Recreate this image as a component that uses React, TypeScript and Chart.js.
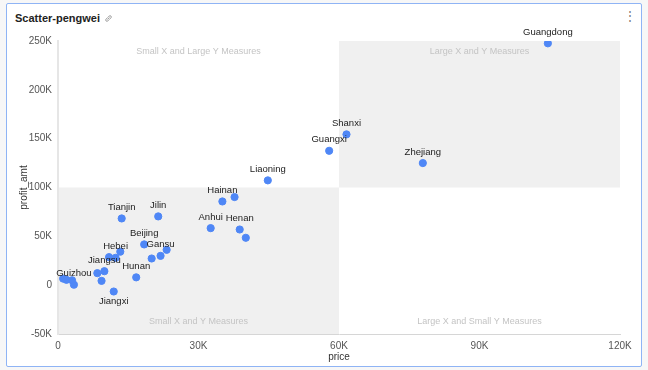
import React, { useEffect, useRef } from "react";
import { Chart, registerables } from "chart.js";

Chart.register(...registerables);

const provinces: string[] = [
  "Guangdong", "Shanxi", "Guangxi", "Zhejiang", "Liaoning",
  "Hainan", "", "Tianjin", "Jilin", "Anhui", "Henan", "",
  "Beijing", "Gansu", "", "", "Hebei", "", "",
  "Jiangsu", "", "", "Hunan", "Guizhou", "", "", "", "Jiangxi",
];
const priceValues: number[] = [
  104600, 61600, 57900, 77900, 44800,
  35100, 37700, 13600, 21400, 32600, 38800, 40100,
  18400, 21900, 23200, 20000, 12300, 10900, 13300,
  9900, 8400, 9300, 16700, 3400, 1100, 1800, 3000, 11900,
];
const profitValues: number[] = [
  247600, 154400, 137600, 125000, 107300,
  85700, 90200, 68300, 70400, 58400, 57000, 48500,
  41700, 30000, 36200, 27300, 28000, 28700, 34300,
  14300, 12300, 4400, 8000, 500, 6700, 5500, 5000, -6500,
];
const labelBelow: string[] = ["Jiangxi"];

const xTicks: number[] = [0, 30000, 60000, 90000, 120000];
const yTicks: number[] = [-50000, 0, 50000, 100000, 150000, 200000, 250000];
const xSplit = 60000;
const ySplit = 100000;
const quadrantTexts: string[] = [
  "Small X and Large Y Measures",
  "Large X and Y Measures",
  "Small X and Y Measures",
  "Large X and Small Y Measures",
];

const FONT = "'Liberation Sans', Arial, Helvetica, sans-serif";

const fmt = (v: number) => (v === 0 ? "0" : `${v / 1000}K`);

const quadrantPlugin = {
  id: "quadrants",
  beforeDraw(chart: any) {
    const { ctx, chartArea, scales } = chart;
    const x = scales.x;
    const y = scales.y;
    const xs = x.getPixelForValue(xSplit);
    const ys = y.getPixelForValue(ySplit);
    const { left, right, top, bottom } = chartArea;
    ctx.save();
    ctx.fillStyle = "#f0f0f0";
    ctx.fillRect(left, ys, xs - left, bottom - ys);
    ctx.fillRect(xs, top, right - xs, ys - top);
    ctx.fillStyle = "#c4c4c4";
    ctx.font = `9px ${FONT}`;
    ctx.textAlign = "center";
    ctx.textBaseline = "middle";
    const lc = (left + xs) / 2;
    const rc = (xs + right) / 2;
    ctx.fillText(quadrantTexts[0], lc, top + 11);
    ctx.fillText(quadrantTexts[1], rc, top + 11);
    ctx.fillText(quadrantTexts[2], lc, bottom - 12);
    ctx.fillText(quadrantTexts[3], rc, bottom - 12);
    ctx.restore();
  },
};

const labelPlugin = {
  id: "pointLabels",
  afterDatasetsDraw(chart: any) {
    const { ctx } = chart;
    const meta = chart.getDatasetMeta(0);
    ctx.save();
    ctx.fillStyle = "#222222";
    ctx.font = `9.5px ${FONT}`;
    ctx.textAlign = "center";
    ctx.textBaseline = "middle";
    meta.data.forEach((pt: any, i: number) => {
      const name = provinces[i];
      if (!name) return;
      const below = labelBelow.includes(name);
      ctx.fillText(name, pt.x, below ? pt.y + 10 : pt.y - 11);
    });
    ctx.restore();
  },
};

function ScatterChart() {
  const ref = useRef<HTMLCanvasElement | null>(null);
  useEffect(() => {
    if (!ref.current) return;
    const points = priceValues.map((v, i) => ({ x: v, y: profitValues[i] }));
    const chart = new Chart(ref.current, {
      type: "scatter",
      data: {
        datasets: [
          {
            data: points,
            backgroundColor: "#4f87f6",
            borderColor: "#4f87f6",
            pointRadius: 3.6,
            pointHoverRadius: 3.6,
          },
        ],
      },
      options: {
        animation: false,
        responsive: false,
        devicePixelRatio: 1,
        layout: { padding: { left: 0, top: 41, right: 28, bottom: 0 } },
        plugins: {
          legend: { display: false },
          tooltip: { enabled: false },
        },
        scales: {
          x: {
            type: "linear",
            min: 0,
            max: 120000,
            afterBuildTicks: (s: any) => {
              s.ticks = xTicks.map((v) => ({ value: v }));
            },
            afterFit: (s: any) => {
              s.height = 36;
            },
            grid: { display: false, drawTicks: false },
            border: { display: true, color: "#d6d6d6", width: 1 },
            ticks: {
              padding: 6,
              color: "#555555",
              font: { size: 10, family: FONT },
              callback: (v: any) => fmt(Number(v)),
            },
            title: {
              display: true,
              text: "price",
              color: "#333333",
              font: { size: 10, family: FONT },
              padding: { top: 0, bottom: 7 },
            },
          },
          y: {
            type: "linear",
            min: -50000,
            max: 250000,
            afterBuildTicks: (s: any) => {
              s.ticks = yTicks.map((v) => ({ value: v }));
            },
            afterFit: (s: any) => {
              s.width = 58;
            },
            grid: { display: false, drawTicks: false },
            border: { display: true, color: "#e6e6e6", width: 2 },
            ticks: {
              padding: 6,
              color: "#555555",
              font: { size: 10, family: FONT },
              callback: (v: any) => fmt(Number(v)),
            },
            title: {
              display: true,
              text: "profit_amt",
              color: "#333333",
              font: { size: 10, family: FONT },
              padding: { top: 18, bottom: 0 },
            },
          },
        },
      },
      plugins: [quadrantPlugin, labelPlugin],
    } as any);
    return () => chart.destroy();
  }, []);
  return (
    <canvas
      ref={ref}
      width={648}
      height={370}
      style={{ position: "absolute", left: 0, top: 0, width: 648, height: 370 }}
    />
  );
}

export default function App() {
  return (
    <div
      style={{
        position: "fixed",
        left: 0,
        top: 0,
        width: 648,
        height: 370,
        background: "#f7f7f7",
        overflow: "hidden",
        fontFamily: FONT,
      }}
    >
      <div
        style={{
          position: "absolute",
          left: 6,
          top: 3,
          width: 634,
          height: 362,
          border: "1px solid #8fb4f5",
          borderRadius: 2,
          background: "#ffffff",
        }}
      />
      <div
        style={{
          position: "absolute",
          left: 15,
          top: 10,
          fontSize: 11,
          fontWeight: "bold",
          color: "#222222",
          lineHeight: "16px",
          display: "flex",
          alignItems: "center",
        }}
      >
        <span>Scatter-pengwei</span>
        <svg width="9" height="9" viewBox="0 0 10 10" style={{ marginLeft: 4 }}>
          <path
            d="M4.2 5.8 L5.8 4.2 M3.6 4.4 L2.3 5.7 a1.4 1.4 0 0 0 2 2 L5.6 6.4 M6.4 5.6 L7.7 4.3 a1.4 1.4 0 0 0 -2 -2 L4.4 3.6"
            stroke="#888888"
            strokeWidth="0.9"
            fill="none"
            strokeLinecap="round"
          />
        </svg>
      </div>
      <div
        style={{
          position: "absolute",
          left: 624,
          top: 9,
          width: 10,
          fontSize: 12,
          color: "#777777",
          textAlign: "center",
          lineHeight: "14px",
        }}
      >
        ⋮
      </div>
      <ScatterChart />
    </div>
  );
}
